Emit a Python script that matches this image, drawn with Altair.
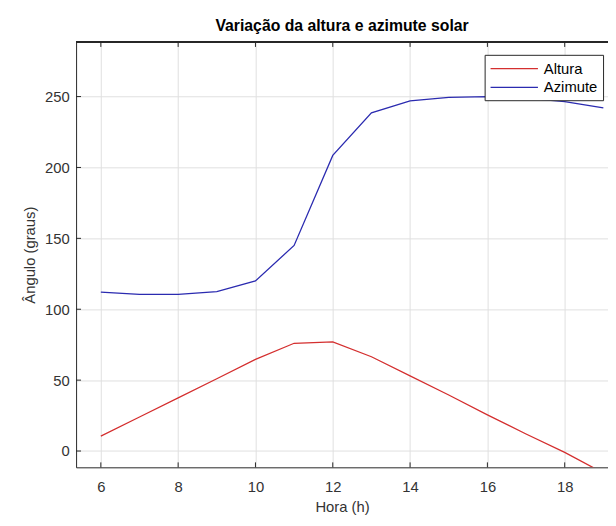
import altair as alt
import pandas as pd

# ---- data ----
horas = [6, 7, 8, 9, 10, 11, 12, 13, 14, 15, 16, 17, 18, 19]
altura = [10.5, 24, 37.5, 51, 64.6, 76, 77, 66.5, 53, 39.5, 25.5, 12, -1, -15.5]
azimute = [112, 110.5, 110.5, 112.5, 120, 145, 208.5, 238.5, 247, 249.5, 250, 249, 246.5, 242]
series = ["Altura", "Azimute"]
colors = ["#d42f2f", "#2b2bb0"]
x_ticks = [6, 8, 10, 12, 14, 16, 18]
y_ticks = [0, 50, 100, 150, 200, 250]
x_domain = [5.36, 19.12]
y_domain = [-11.5, 288.5]

W, H = 539, 431
FONT = "Liberation Sans"
AX = "#262626"

rows = []
for h, a, z in zip(horas, altura, azimute):
    rows.append({"hora": h, "valor": a, "serie": series[0]})
    rows.append({"hora": h, "valor": z, "serie": series[1]})
df = pd.DataFrame(rows)

xs = alt.Scale(domain=x_domain, nice=False, zero=False)
ys = alt.Scale(domain=y_domain, nice=False, zero=False)
xaxis = alt.Axis(values=x_ticks, title="Hora (h)", grid=True, tickSize=0,
                 labelPadding=12, titlePadding=6, format="d")
yaxis = alt.Axis(values=y_ticks, title="Ângulo (graus)", grid=True, tickSize=0,
                 labelPadding=7, titlePadding=7, format="d")

lines = alt.Chart(df).mark_line(strokeWidth=1.3, clip=True).encode(
    x=alt.X("hora:Q", scale=xs, axis=xaxis),
    y=alt.Y("valor:Q", scale=ys, axis=yaxis),
    color=alt.Color("serie:N", scale=alt.Scale(domain=series, range=colors),
                    legend=alt.Legend(title=None, orient="none", legendX=414, legendY=13,
                                      symbolType="M-1,0H5", symbolSize=256,
                                      symbolStrokeWidth=1.3, labelOffset=37,
                                      labelFontSize=15, labelColor="#000000",
                                      labelFont=FONT, fillColor="white",
                                      strokeColor=AX, padding=5, rowPadding=2,
                                      cornerRadius=0)),
)

dx = pd.DataFrame({"hora": x_ticks})
dy = pd.DataFrame({"valor": y_ticks})

tick_bottom = alt.Chart(dx).mark_rule(color=AX, strokeWidth=1).encode(
    x=alt.X("hora:Q", scale=xs, axis=xaxis), y=alt.value(H), y2=alt.value(H - 5))
tick_top = alt.Chart(dx).mark_rule(color=AX, strokeWidth=1).encode(
    x=alt.X("hora:Q", scale=xs, axis=xaxis), y=alt.value(0), y2=alt.value(5))
tick_left = alt.Chart(dy).mark_rule(color=AX, strokeWidth=1).encode(
    y=alt.Y("valor:Q", scale=ys, axis=yaxis), x=alt.value(0), x2=alt.value(5))
top_border = alt.Chart(dx).mark_rule(color=AX, strokeWidth=1).encode(
    y=alt.value(0), x=alt.value(0), x2=alt.value(W + 2))

chart = alt.layer(lines, tick_bottom, tick_top, tick_left, top_border).properties(
    width=W, height=H,
    title=alt.TitleParams("Variação da altura e azimute solar", anchor="middle",
                          frame="group", fontSize=16, fontWeight="bold",
                          font=FONT, color="#000000", offset=8),
    autosize=alt.AutoSizeParams(type="none"),
    padding={"left": 69, "top": 31, "right": 0, "bottom": 55},
).configure_view(stroke=None).configure_axis(
    labelFont=FONT, titleFont=FONT, labelFontSize=15, titleFontSize=15,
    labelColor="#333333", titleColor="#333333", titleFontWeight="normal",
    domainColor=AX, domainWidth=1, gridColor="#e0e0e0", gridWidth=1,
)

chart.save("out.html", embed_options={"renderer": "svg", "actions": False})
